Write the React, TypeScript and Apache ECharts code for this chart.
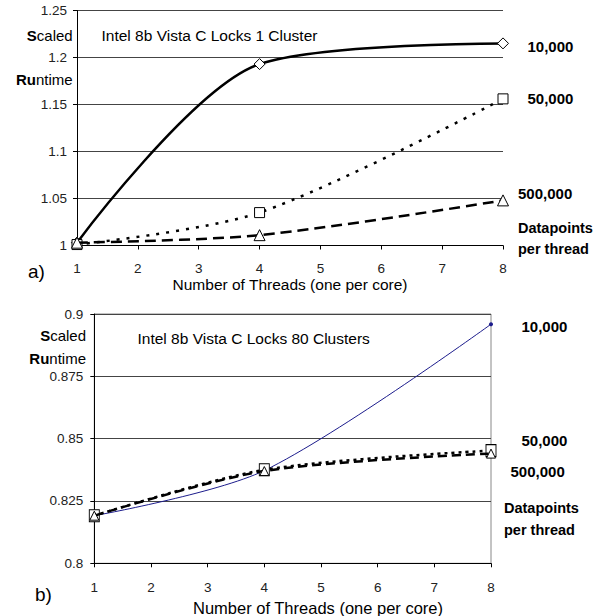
import React, { useEffect, useRef } from "react";
import * as echarts from "echarts";

// Thread counts at which runtimes were measured
const threads = [1, 4, 8];
const datapointLabels = ["10,000", "50,000", "500,000"];

// Panel a) one cluster
const oneCluster10k = [1.003, 1.193, 1.215];
const oneCluster50k = [1.001, 1.035, 1.156];
const oneCluster500k = [1.003, 1.011, 1.048];
const oneClusterTicks = [1, 1.05, 1.1, 1.15, 1.2, 1.25];

// Panel b) eighty clusters
const eightyClusters10k = [0.8191, 0.8372, 0.8959];
const eightyClusters50k = [0.8191, 0.8375, 0.8452];
const eightyClusters500k = [0.8191, 0.837, 0.844];
const eightyClusterTicks = [0.8, 0.825, 0.85, 0.875, 0.9];

const threadTicks = [1, 2, 3, 4, 5, 6, 7, 8];
const threadAxisTitle = "Number of Threads (one per core)";

const FONT = "'Liberation Sans', Arial, Helvetica, sans-serif";

const pairs = (ys: number[]) => threads.map((t, i) => [t, ys[i]]);

function text(x: number, y: number, content: string, opts: any = {}) {
  return {
    type: "text",
    x,
    y,
    silent: true,
    style: {
      text: content,
      fill: "#000",
      fontFamily: FONT,
      fontSize: opts.fontSize ?? 15,
      fontWeight: opts.fontWeight ?? "normal",
      align: opts.align ?? "left",
      verticalAlign: "middle",
      rich: opts.rich,
    },
  };
}

const boldLead = {
  b: { fontFamily: FONT, fontSize: 15, fontWeight: "bold", fill: "#000" },
  n: { fontFamily: FONT, fontSize: 15, fontWeight: "normal", fill: "#000" },
};

function xAxisFor(gridIndex: number, labelMargin: number, withName: boolean) {
  return {
    type: "value",
    gridIndex,
    min: threadTicks[0],
    max: threadTicks[threadTicks.length - 1],
    interval: 1,
    name: withName ? threadAxisTitle : "",
    nameLocation: "middle",
    nameGap: 29,
    nameTextStyle: { fontFamily: FONT, fontSize: 15.5, color: "#000" },
    axisLine: { show: true, lineStyle: { color: "#000", width: 1 } },
    axisTick: { show: true, length: 4, lineStyle: { color: "#000" } },
    axisLabel: {
      fontFamily: FONT,
      fontSize: 13.5,
      color: "#222",
      margin: labelMargin,
    },
    splitLine: { show: false },
  };
}

function yAxisFor(gridIndex: number, ticks: number[], interval: number, margin: number) {
  return {
    type: "value",
    gridIndex,
    min: ticks[0],
    max: ticks[ticks.length - 1],
    interval,
    axisLine: { show: true, lineStyle: { color: "#000", width: 1 } },
    axisTick: { show: true, length: 4, lineStyle: { color: "#000" } },
    axisLabel: { fontFamily: FONT, fontSize: 13.5, color: "#222", margin },
    splitLine: { show: true, lineStyle: { color: "#444", width: 1 } },
  };
}

const hollow = { color: "#fff", borderColor: "#000", borderWidth: 1 };

export default function App() {
  const ref = useRef<HTMLDivElement>(null);

  useEffect(() => {
    if (!ref.current) return;
    const chart = echarts.init(ref.current, undefined, { renderer: "svg" });

    chart.setOption({
      animation: false,
      backgroundColor: "#fff",
      grid: [
        { left: 77, top: 10.5, width: 426, height: 235, outerBoundsMode: "none" },
        {
          left: 94.3,
          top: 314,
          width: 396.7,
          height: 249.3,
          outerBoundsMode: "none",
          show: true,
          borderColor: "#888",
          borderWidth: 1,
        },
      ],
      xAxis: [xAxisFor(0, 16, true), xAxisFor(1, 17, false)],
      yAxis: [
        yAxisFor(0, oneClusterTicks, 0.05, 10),
        yAxisFor(1, eightyClusterTicks, 0.025, 11),
      ],
      series: [
        {
          name: datapointLabels[0],
          type: "line",
          xAxisIndex: 0,
          yAxisIndex: 0,
          data: pairs(oneCluster10k),
          smooth: 0.3,
          symbol: "diamond",
          symbolSize: 11,
          lineStyle: { color: "#000", width: 2.5, type: "solid" },
          itemStyle: hollow,
          z: 3,
        },
        {
          name: datapointLabels[1],
          type: "line",
          xAxisIndex: 0,
          yAxisIndex: 0,
          data: pairs(oneCluster50k),
          smooth: 0.3,
          symbol: "rect",
          symbolSize: 10,
          lineStyle: { color: "#000", width: 2.5, type: [3, 7] },
          itemStyle: hollow,
          z: 4,
        },
        {
          name: datapointLabels[2],
          type: "line",
          xAxisIndex: 0,
          yAxisIndex: 0,
          data: pairs(oneCluster500k),
          smooth: 0.3,
          symbol: "triangle",
          symbolSize: 11,
          lineStyle: { color: "#000", width: 2.5, type: [11, 6] },
          itemStyle: hollow,
          z: 5,
        },
        {
          name: datapointLabels[0],
          type: "line",
          xAxisIndex: 1,
          yAxisIndex: 1,
          data: pairs(eightyClusters10k),
          smooth: 0.3,
          symbol: "circle",
          symbolSize: 4,
          lineStyle: { color: "#1c1c8c", width: 1, type: "solid" },
          itemStyle: { color: "#1c1c8c" },
          z: 3,
        },
        {
          name: datapointLabels[1],
          type: "line",
          xAxisIndex: 1,
          yAxisIndex: 1,
          data: pairs(eightyClusters50k),
          smooth: 0.3,
          symbol: "rect",
          symbolSize: [10, 12],
          lineStyle: { color: "#000", width: 2.5, type: [3, 4] },
          itemStyle: hollow,
          z: 4,
        },
        {
          name: datapointLabels[2],
          type: "line",
          xAxisIndex: 1,
          yAxisIndex: 1,
          data: pairs(eightyClusters500k),
          smooth: 0.3,
          symbol: "triangle",
          symbolSize: 9,
          lineStyle: { color: "#000", width: 2.5, type: [9, 5] },
          itemStyle: hollow,
          z: 5,
        },
      ],
      graphic: [
        // panel a)
        text(72.7, 35, "{b|S}{n|caled}", { align: "right", rich: boldLead }),
        text(72.7, 79, "{b|Ru}{n|ntime}", { align: "right", rich: boldLead }),
        text(101.5, 35, "Intel 8b Vista C Locks 1 Cluster", { fontSize: 15.5 }),
        text(527.5, 46, datapointLabels[0], { fontWeight: "bold" }),
        text(527.5, 98, datapointLabels[1], { fontWeight: "bold" }),
        text(518, 193, datapointLabels[2], { fontWeight: "bold" }),
        text(518, 228, "Datapoints", { fontWeight: "bold", fontSize: 14.5 }),
        text(518, 249, "per thread", { fontWeight: "bold", fontSize: 14.5 }),
        text(28, 271, "a)", { fontSize: 19 }),
        // panel b)
        text(86, 335, "{b|S}{n|caled}", { align: "right", rich: boldLead }),
        text(86, 358, "{b|Ru}{n|ntime}", { align: "right", rich: boldLead }),
        text(137.5, 338, "Intel 8b Vista C Locks 80 Clusters", { fontSize: 15.5 }),
        text(521.5, 326, datapointLabels[0], { fontWeight: "bold" }),
        text(521.5, 440, datapointLabels[1], { fontWeight: "bold" }),
        text(510.5, 471, datapointLabels[2], { fontWeight: "bold" }),
        text(504, 508, "Datapoints", { fontWeight: "bold", fontSize: 14.5 }),
        text(504, 530, "per thread", { fontWeight: "bold", fontSize: 14.5 }),
        text(35, 594, "b)", { fontSize: 19 }),
        text(318, 608, threadAxisTitle, { fontSize: 16.5, align: "center" }),
      ],
    });

    return () => chart.dispose();
  }, []);

  return (
    <div
      ref={ref}
      style={{ position: "fixed", left: 0, top: 0, width: 601, height: 616, background: "#fff" }}
    />
  );
}
